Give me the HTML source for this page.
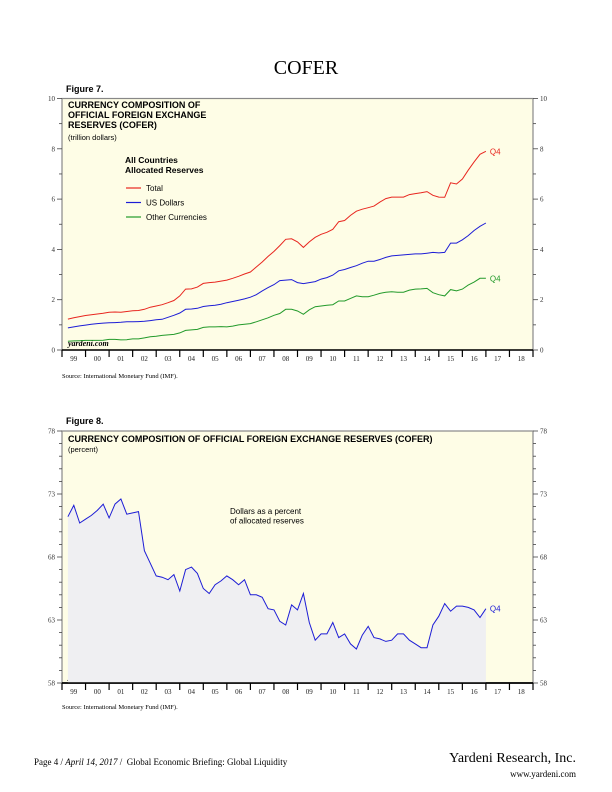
<!DOCTYPE html>
<html><head><meta charset="utf-8">
<style>
html,body{margin:0;padding:0;background:#fff;}
body{width:612px;height:792px;position:relative;overflow:hidden;font-family:"Liberation Sans",sans-serif;}
.t{position:absolute;white-space:nowrap;}
.serif{font-family:"Liberation Serif",serif;}
</style></head><body>
<div class="t serif" style="left:0;width:612px;text-align:center;top:57px;font-size:20px;">COFER</div>
<div class="t" style="left:66px;top:84px;font-size:9px;font-weight:bold;">Figure 7.</div>
<div class="t" style="left:66px;top:416px;font-size:9px;font-weight:bold;">Figure 8.</div>

<svg id="c1" width="612" height="392" style="position:absolute;left:0;top:0" xmlns="http://www.w3.org/2000/svg"></svg>
<svg id="c2" width="612" height="330" style="position:absolute;left:0;top:400px" xmlns="http://www.w3.org/2000/svg"></svg>

<div class="t serif" style="left:34px;top:757px;font-size:9px;">Page 4 / <i>April 14, 2017</i> /&nbsp; Global Economic Briefing: Global Liquidity</div>
<div class="t serif" style="right:36px;top:751px;font-size:14px;">Yardeni Research, Inc.</div>
<div class="t serif" style="right:36px;top:769px;font-size:9px;">www.yardeni.com</div>

<script>
const years = ['99','00','01','02','03','04','05','06','07','08','09','10','11','12','13','14','15','16','17','18'];
const totalReserves = [1.23,1.28,1.33,1.37, 1.40,1.43,1.46,1.50, 1.51,1.50,1.53,1.56, 1.57,1.62,1.70,1.75, 1.80,1.88,1.97,2.15, 2.42,2.43,2.50,2.65, 2.68,2.70,2.74,2.78, 2.85,2.93,3.02,3.10, 3.30,3.50,3.72,3.92, 4.15,4.40,4.42,4.30, 4.08,4.30,4.48,4.60, 4.68,4.80,5.10,5.15, 5.35,5.52,5.60,5.66, 5.72,5.88,6.02,6.08, 6.08,6.08,6.18,6.22, 6.25,6.30,6.15,6.08, 6.07,6.65,6.60,6.80, 7.15,7.48,7.78,7.90];
const usDollars = [0.88,0.92,0.96,0.99, 1.02,1.05,1.07,1.08, 1.09,1.10,1.12,1.12, 1.13,1.14,1.17,1.20, 1.22,1.30,1.38,1.47, 1.62,1.63,1.66,1.73, 1.76,1.78,1.82,1.88, 1.93,1.98,2.03,2.10, 2.20,2.35,2.48,2.60, 2.76,2.78,2.80,2.68, 2.64,2.68,2.72,2.82, 2.88,2.98,3.15,3.20, 3.28,3.35,3.45,3.53, 3.53,3.60,3.68,3.74, 3.76,3.78,3.80,3.82, 3.82,3.85,3.88,3.86, 3.88,4.25,4.25,4.38, 4.55,4.75,4.92,5.05];
const otherCurrencies = [0.35,0.36,0.37,0.38, 0.38,0.38,0.39,0.42, 0.42,0.40,0.41,0.44, 0.44,0.48,0.53,0.55, 0.58,0.60,0.62,0.68, 0.78,0.80,0.82,0.90, 0.92,0.92,0.93,0.92, 0.95,1.00,1.02,1.05, 1.12,1.20,1.28,1.38, 1.45,1.62,1.62,1.55, 1.42,1.60,1.72,1.75, 1.78,1.80,1.95,1.95, 2.05,2.15,2.12,2.12, 2.18,2.25,2.30,2.32, 2.30,2.30,2.38,2.42, 2.43,2.45,2.28,2.20, 2.15,2.40,2.35,2.42, 2.58,2.70,2.85,2.85];
const dollarShare = [71.2,72.1,70.7,71.0, 71.3,71.7,72.2,71.1, 72.2,72.6,71.4,71.5, 71.6,68.5,67.5,66.5, 66.4,66.2,66.6,65.3, 67.0,67.2,66.7,65.5, 65.1,65.8,66.1,66.5, 66.2,65.8,66.2,65.0, 65.0,64.8,63.9,63.8, 62.9,62.6,64.2,63.8, 65.1,62.8,61.4,61.9, 61.9,62.8,61.6,61.9, 61.1,60.7,61.8,62.5, 61.6,61.5,61.3,61.4, 61.9,61.9,61.4,61.1, 60.8,60.8,62.6,63.3, 64.3,63.7,64.1,64.1, 64.0,63.8,63.2,63.9];
const ticks1 = [0,2,4,6,8,10];
const ticks2 = [58,63,68,73,78];

const NS='http://www.w3.org/2000/svg';
const X0=62, X1=533, YW=(X1-X0)/20;
function xq(i){return X0+(i+1)/4*YW;}
function mk(svg,tag,attrs){const e=document.createElementNS(NS,tag);for(const k in attrs)e.setAttribute(k,attrs[k]);svg.appendChild(e);return e;}
function txt(svg,x,y,s,attrs){const e=mk(svg,'text',Object.assign({x:x,y:y},attrs));e.textContent=s;return e;}

function frame(svg,top,bot,vmin,vmax,tickVals,minorStep,srcY){
  const ys=v=>bot-(v-vmin)/(vmax-vmin)*(bot-top);
  const bg=mk(svg,'rect',{x:X0,y:top,width:X1-X0,height:bot-top,fill:'#fefde6',stroke:'#888','stroke-width':1.2});
  
  
  for(let v=vmin;v<=vmax+1e-9;v+=minorStep){
    const y=ys(v);
    const major=tickVals.includes(Math.round(v));
    mk(svg,'line',{x1:X0-(major?5:3),x2:X0,y1:y,y2:y,stroke:'#444','stroke-width':0.8});
    mk(svg,'line',{x1:X1,x2:X1+(major?5:3),y1:y,y2:y,stroke:'#444','stroke-width':0.8});
  }
  tickVals.forEach(v=>{
    const l=txt(svg,X0-7,ys(v)+2.5,String(v),{'font-family':'Liberation Serif,serif','font-size':7,'text-anchor':'end',fill:'#333'});
    
    
    const r=txt(svg,X1+7,ys(v)+2.5,String(v),{'font-family':'Liberation Serif,serif','font-size':7,fill:'#333'});
    
    
  });
  mk(svg,'line',{x1:X0,x2:X1,y1:bot,y2:bot,stroke:'#000','stroke-width':1.5});
  for(let k=0;k<=20;k++){
    const x=X0+k*YW;
    mk(svg,'line',{x1:x,x2:x,y1:bot,y2:bot+7,stroke:'#000','stroke-width':1.2});
  }
  years.forEach((yr,k)=>{
    const l=txt(svg,X0+(k+0.5)*YW,bot+11,yr,{'font-family':'Liberation Serif,serif','font-size':7,'text-anchor':'middle',fill:'#222'});
    
    
  });
  const w=txt(svg,68,bot-4,'yardeni.com',{'font-family':'Liberation Serif,serif','font-size':8,'font-style':'italic','font-weight':'bold'});
  
  
  const s=txt(svg,62,srcY,'Source: International Monetary Fund (IMF).',{'font-family':'Liberation Serif,serif','font-size':6.5});
  
  
  return ys;
}
function pathFor(vals,ys){return vals.map((v,i)=>(i?'L':'M')+xq(i).toFixed(1)+','+ys(v).toFixed(1)).join('');}

// Chart 1
const s1=document.getElementById('c1');
const ys1=frame(s1,98.5,350,0,10,ticks1,1,378);
[['Total',totalReserves,'#e8261f','series-total'],['US Dollars',usDollars,'#1d1dd6','series-us-dollars'],['Other Currencies',otherCurrencies,'#229a2a','series-other-currencies']].forEach(([n,d,c,id],k)=>{
  const p=mk(s1,'path',{d:pathFor(d,ys1),fill:'none',stroke:c,'stroke-width':1});
  
  
  const ly=191+k*14.5;
  mk(s1,'line',{x1:126,x2:141,y1:ly-3,y2:ly-3,stroke:c,'stroke-width':1.2});
  const l=txt(s1,146,ly,n,{'font-size':8});
  
  
});
const q1=txt(s1,xq(71)+4,ys1(totalReserves[71])+3,'Q4',{'font-size':8,fill:'#e8261f'});


const q2=txt(s1,xq(71)+4,ys1(otherCurrencies[71])+3,'Q4',{'font-size':8,fill:'#229a2a'});


[['CURRENCY COMPOSITION OF',108],['OFFICIAL FOREIGN EXCHANGE',118],['RESERVES (COFER)',128]].forEach(([s,y])=>{
  const e=txt(s1,68,y,s,{'font-size':9,'font-weight':'bold'});
  
  
});
const u1=txt(s1,68,140,'(trillion dollars)',{'font-size':7.5});


const lh1=txt(s1,125,163,'All Countries',{'font-size':8.5,'font-weight':'bold'});


const lh2=txt(s1,125,173,'Allocated Reserves',{'font-size':8.5,'font-weight':'bold'});



// Chart 2 (offset top 400)
const s2=document.getElementById('c2');
const ys2=frame(s2,31,283,58,78,ticks2,1,309);
const area=mk(s2,'path',{d:pathFor(dollarShare,ys2)+'L'+xq(71).toFixed(1)+','+283+'L'+xq(0).toFixed(1)+','+283+'Z',fill:'#efeff2',stroke:'none'});


const ln=mk(s2,'path',{d:pathFor(dollarShare,ys2),fill:'none',stroke:'#1d1dd6','stroke-width':1});


mk(s2,'line',{x1:X0,x2:X1,y1:283,y2:283,stroke:'#000','stroke-width':1.5});
const q3=txt(s2,xq(71)+4,ys2(dollarShare[71])+3,'Q4',{'font-size':8,fill:'#1d1dd6'});


const t2=txt(s2,68,42,'CURRENCY COMPOSITION OF OFFICIAL FOREIGN EXCHANGE RESERVES (COFER)',{'font-size':9,'font-weight':'bold'});


const u2=txt(s2,68,52,'(percent)',{'font-size':7.5});


const a1=txt(s2,230,114,'Dollars as a percent',{'font-size':8});


const a2=txt(s2,230,123.5,'of allocated reserves',{'font-size':8});


</script>
</body></html>
